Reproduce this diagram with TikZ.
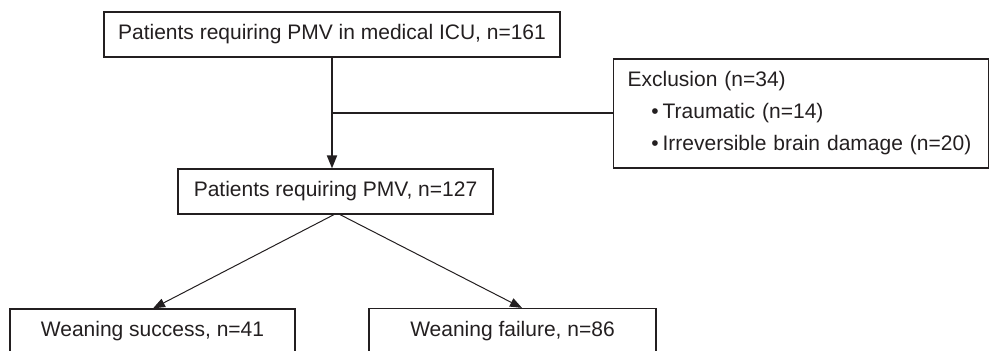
\documentclass[tikz,border=0pt]{standalone}
\usepackage{fontspec}
\setmainfont{Liberation Sans}
\usetikzlibrary{arrows.meta}
\definecolor{ink}{HTML}{231F20}
\begin{document}
\begin{tikzpicture}[x=1bp,y=-1bp,
  box/.style={draw=ink,line width=1.2bp,text=ink,inner sep=0pt,
    font=\fontsize{21bp}{25bp}\selectfont},
  conn/.style={draw=ink,line width=1.9bp},
  diag/.style={draw=ink,line width=1bp,-{Triangle[length=12bp,width=9bp]}},
  vert/.style={draw=ink,line width=1.9bp,-{Triangle[length=13bp,width=10bp]}}]
\clip (0,0) rectangle (989,350);
\node[box,minimum width=456bp,minimum height=45bp] (b1) at (332,34.5) {Patients requiring PMV in medical ICU, n=161};
\node[box,minimum width=315bp,minimum height=45bp] (b2) at (335.5,191.5) {Patients requiring PMV, n=127};
\node[box,minimum width=375bp,minimum height=109bp,align=left,anchor=west,
  text width=375bp] (ex) at (613,113.5) {\hspace*{14bp}Exclusion (n=34)\\[7bp]
  \hspace*{49bp}\llap{\textbullet\hspace{4bp}}Traumatic (n=14)\\[7bp]
  \hspace*{49bp}\llap{\textbullet\hspace{4bp}}Irreversible brain damage (n=20)};
\node[box,minimum width=285bp,minimum height=45bp] (b3) at (152.5,331.5) {Weaning success, n=41};
\node[box,minimum width=287bp,minimum height=45bp] (b4) at (512.5,331) {Weaning failure, n=86};
\coordinate (j) at (332,113);
\draw[vert] (b1.south -| j) -- (b2.north -| j);
\draw[conn] (j) -- (ex.west |- j);
\coordinate (s1) at (334,214);
\coordinate (s2) at (340,214);
\coordinate (t1) at (153,0);
\coordinate (t2) at (522,0);
\draw[diag] (b2.south -| s1) -- (b3.north -| t1);
\draw[diag] (b2.south -| s2) -- (b4.north -| t2);
\end{tikzpicture}
\end{document}
